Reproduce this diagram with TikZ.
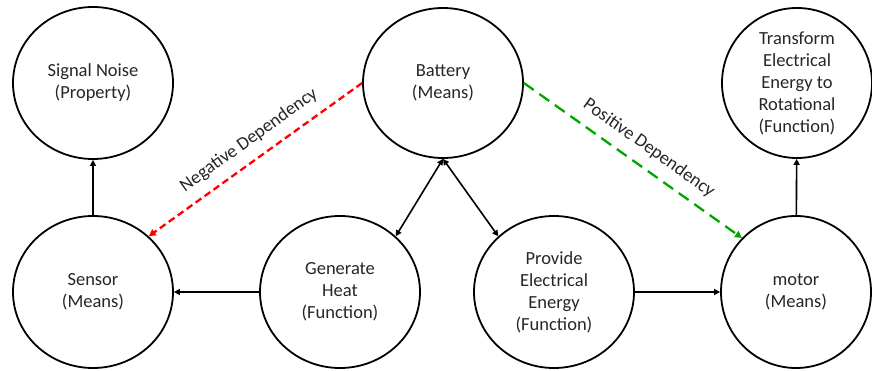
\documentclass[tikz,border=0pt]{standalone}
\usepackage{fontspec}
\setmainfont{Carlito}
\usetikzlibrary{arrows.meta,shapes.geometric}

\begin{document}
\begin{tikzpicture}[x=1pt,y=-1pt,font=\fontsize{18.5}{22}\selectfont,
  bubble/.style={ellipse,draw,line width=1.8pt,minimum width=160pt,minimum height=152pt,inner sep=0pt,align=center,text=black!85},
  link/.style={line width=1.6pt,-{Triangle[length=6pt,width=6pt]}},
  twolink/.style={line width=1.6pt,{Triangle[length=6pt,width=6pt]}-{Triangle[length=6pt,width=6pt]}},
  dep/.style={line width=2.3pt,-{Triangle[length=7pt,width=7pt]}},
  deplabel/.style={sloped,above=#1,text=black!85}]
  \useasboundingbox (0,0) rectangle (872,371);
  \node[bubble] (noise) at (93,83) {Signal Noise\\(Property)};
  \node[bubble,minimum height=150pt] (battery) at (443,83) {Battery\\(Means)};
  \node[bubble,minimum width=150pt,minimum height=150pt] (transform) at (797,83) {Transform\\Electrical\\Energy to\\Rotational\\(Function)};
  \node[bubble] (sensor) at (93,292) {Sensor\\(Means)};
  \node[bubble] (heat) at (340,292) {Generate\\Heat\\(Function)};
  \node[bubble] (provide) at (554,292) {Provide\\Electrical\\Energy\\(Function)};
  \node[bubble,minimum width=150pt] (motor) at (796,292) {motor\\(Means)};
  \draw[link] (sensor) -- (noise);
  \draw[link] (heat) -- (sensor);
  \draw[link] (provide) -- (motor);
  \draw[link] (motor) -- (transform);
  \draw[twolink] (battery.south) -- (heat.45);
  \draw[twolink] (battery.south) -- (provide.135);
  \draw[dep,red,dash pattern=on 7pt off 4pt] (battery.west) -- node[deplabel=7pt,xshift=6pt]{Negative Dependency} (sensor.45);
  \draw[dep,green!65!black,dash pattern=on 12pt off 7pt] (battery.east) -- node[deplabel=7pt,xshift=6pt]{Positive Dependency} (motor.135);
\end{tikzpicture}
\end{document}
